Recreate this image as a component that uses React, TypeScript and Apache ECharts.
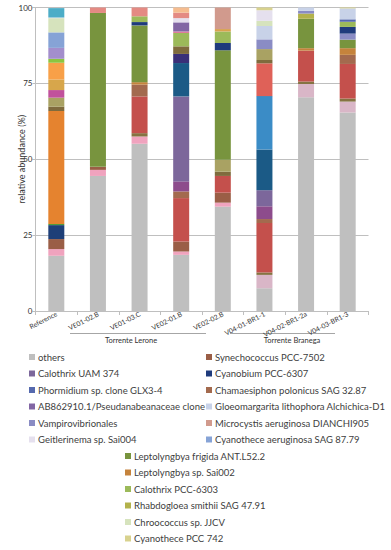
import React, { useEffect, useRef } from "react";
import * as echarts from "echarts";

const categories = ["Reference", "VE01-02.B", "VE01-03.C", "VE02-01.B", "VE02-02.B", "V04-01-BR1-1", "V04-02-BR1-2a", "V04-03-BR1-3"];
const yTicks = [0, 25, 50, 75, 100];

// values (%) per category, stacked bottom to top
const others = [18.2, 44.5, 55.1, 18.5, 34.4, 7.5, 70.4, 65.4];
const pinkA = [2.2, 2.0, 2.4, 1.1, 1.3, 0, 0, 0];
const mauveB = [0, 0, 0, 0, 0, 4.4, 4.4, 3.6];
const synechococcus = [3.3, 1.0, 0, 3.3, 3.3, 0, 0, 0];
const oliveLow = [0, 0, 1.1, 0, 0, 0.8, 0.8, 1.0];
const navyRef = [4.6, 0, 0, 0, 0, 0, 0, 0];
const greenThin = [0.4, 0, 0, 0, 0, 0, 0, 0];
const orangeMain = [37.2, 0, 0, 0, 0, 0, 0, 0];
const redMain = [0, 0, 12.1, 14.3, 5.5, 16.3, 10.2, 11.4];
const chamaesiphon = [0, 0, 3.9, 2.2, 0, 1.3, 0, 3.0];
const leptoSp = [0, 0, 0.8, 0, 0, 0, 0.8, 2.2];
const magentaPurple = [0, 0, 0, 3.3, 0, 4.2, 0, 0];
const calothrixUAM = [0, 0, 0, 28.0, 0, 5.3, 0, 0];
const darkTeal = [0, 0, 0, 11.0, 0, 13.4, 0, 0];
const midBlue = [0, 0, 0, 0, 0, 17.6, 0, 0];
const coral = [0, 0, 0, 0, 0, 10.8, 0, 0];
const darkPurple = [0, 0, 0, 3.0, 0, 0, 0, 0];
const oliveHigh = [1.4, 0, 0, 2.5, 1.4, 1.1, 0, 0];
const khaki = [3.0, 0, 0, 0, 3.9, 3.6, 0, 0];
const leptoFrigida = [0, 50.7, 18.7, 0, 36.1, 0, 9.7, 2.8];
const rhabdogloea = [0, 0, 0, 0, 0, 0, 1.7, 0];
const magentaRef = [2.5, 0, 0, 0, 0, 0, 0, 0];
const tanRef = [3.5, 0, 0, 0, 0, 0, 0, 0];
const lightOrangeRef = [5.5, 0, 0, 0, 0, 0, 0, 0];
const brightGreenRef = [1.3, 0, 0, 0, 0, 0, 0, 0];
const vampiro = [0, 0, 0, 0, 0, 3.2, 0.9, 2.0];
const cyanobium = [0, 0, 1.1, 0, 2.4, 0, 0, 2.2];
const calothrixPCC = [0, 0, 1.9, 4.4, 3.8, 0, 0, 1.7];
const phormidium = [0, 0, 0, 0, 0, 0, 0, 0.8];
const orangeThin2 = [0, 0, 0, 0, 0.8, 0, 0, 0];
const pinkThin = [0, 0, 0, 0.5, 0, 0, 0, 0];
const ab862910 = [0, 0, 0, 3.0, 0, 0, 0, 0];
const lavenderRef = [3.6, 0, 0, 0, 0, 0, 0, 0];
const cyanotheceAer = [5.1, 0, 0, 0, 0, 0, 0, 0];
const gloeomargarita = [0, 0, 0, 0, 0, 4.4, 1.1, 3.6];
const chroococcus = [4.7, 0, 0, 0, 0, 1.7, 0, 0];
const geitlerinema = [0.2, 0, 0, 1.4, 0, 3.5, 0, 0];
const microcystis = [0, 0, 0, 0, 7.3, 0, 0, 0];
const salmon = [0, 1.8, 2.9, 1.8, 0, 0, 0, 0];
const lightOrange2 = [0, 0, 0, 1.8, 0, 0, 0, 0];
const cyanRef = [3.1, 0, 0, 0, 0, 0, 0, 0];
const cyanothecePCC = [0, 0, 0, 0, 0, 0.9, 0, 0.3];

const layers: [string, string, number[]][] = [
  ["others", "#BFBFBF", others],
  ["x pink", "#F0A3BE", pinkA],
  ["x mauve", "#D9B6C7", mauveB],
  ["Synechococcus PCC-7502", "#9A5E46", synechococcus],
  ["x olive low", "#857342", oliveLow],
  ["x navy", "#1E3F78", navyRef],
  ["x green thin", "#4F9A3A", greenThin],
  ["x orange", "#E5832F", orangeMain],
  ["x red", "#C4504C", redMain],
  ["Chamaesiphon polonicus SAG 32.87", "#A36A4E", chamaesiphon],
  ["Leptolyngbya sp. Sai002", "#C5833C", leptoSp],
  ["x magenta purple", "#8D4C8C", magentaPurple],
  ["Calothrix UAM 374", "#7C679B", calothrixUAM],
  ["x dark teal", "#1B5A86", darkTeal],
  ["x mid blue", "#3B8CC6", midBlue],
  ["x coral", "#DF6158", coral],
  ["x dark purple", "#3A2F78", darkPurple],
  ["x olive high", "#7F6B3D", oliveHigh],
  ["x khaki", "#A9A263", khaki],
  ["Leptolyngbya frigida ANT.L52.2", "#78943E", leptoFrigida],
  ["Rhabdogloea smithii SAG 47.91", "#B3B24B", rhabdogloea],
  ["x magenta", "#C1519C", magentaRef],
  ["x tan", "#D7A64B", tanRef],
  ["x light orange", "#F8A048", lightOrangeRef],
  ["x bright green", "#8CC540", brightGreenRef],
  ["Vampirovibrionales", "#8A8CC4", vampiro],
  ["Cyanobium PCC-6307", "#1F3B7C", cyanobium],
  ["Calothrix PCC-6303", "#9CBA5A", calothrixPCC],
  ["Phormidium sp. clone GLX3-4", "#5569AE", phormidium],
  ["x orange thin", "#D8A24F", orangeThin2],
  ["x pink thin", "#E07C9C", pinkThin],
  ["AB862910.1/Pseudanabeanaceae clone", "#8266A4", ab862910],
  ["x lavender", "#A38ECC", lavenderRef],
  ["Cyanothece aeruginosa SAG 87.79", "#86A3D6", cyanotheceAer],
  ["Gloeomargarita lithophora Alchichica-D1", "#C8D2E8", gloeomargarita],
  ["Chroococcus sp. JJCV", "#D6E3BD", chroococcus],
  ["Geitlerinema sp. Sai004", "#E5E0EE", geitlerinema],
  ["Microcystis aeruginosa DIANCHI905", "#D19A8D", microcystis],
  ["x salmon", "#E48A83", salmon],
  ["x light orange 2", "#F5BC8F", lightOrange2],
  ["x cyan", "#4CADC7", cyanRef],
  ["Cyanothece PCC 742", "#D8D28E", cyanothecePCC],
];

const legendLeft = ["others", "Calothrix UAM 374", "Phormidium sp. clone GLX3-4", "AB862910.1/Pseudanabeanaceae clone", "Vampirovibrionales", "Geitlerinema sp. Sai004"];
const legendRight = ["Synechococcus PCC-7502", "Cyanobium PCC-6307", "Chamaesiphon polonicus SAG 32.87", "Gloeomargarita lithophora Alchichica-D1", "Microcystis aeruginosa DIANCHI905", "Cyanothece aeruginosa SAG 87.79"];
const legendMid = ["Leptolyngbya frigida ANT.L52.2", "Leptolyngbya sp. Sai002", "Calothrix PCC-6303", "Rhabdogloea smithii SAG 47.91", "Chroococcus sp. JJCV", "Cyanothece PCC 742"];
const groupNames = ["Torrente Lerone", "Torrente Branega"];

const FONT = "Lato";

export default function App() {
  const ref = useRef<HTMLDivElement>(null);
  useEffect(() => {
    if (!ref.current) return;
    const chart = echarts.init(ref.current, undefined, { renderer: "svg" });
    const legendCommon = {
      orient: "vertical" as const,
      icon: "rect",
      itemWidth: 6,
      itemHeight: 6,
      itemGap: 4.5,
      selectedMode: false,
      textStyle: { fontFamily: FONT, fontSize: 9.5, color: "#404040", lineHeight: 12, padding: [0, 0, 0, -2] },
      padding: 0,
    };
    chart.setOption({
      animation: false,
      textStyle: { fontFamily: FONT },
      grid: { left: 35.5, right: 22.5, top: 7.5, bottom: 239 },
      legend: [
        { ...legendCommon, left: 29, top: 351, data: legendLeft },
        { ...legendCommon, left: 206, top: 351, data: legendRight },
        { ...legendCommon, left: 125, top: 450, data: legendMid },
      ],
      xAxis: {
        type: "category",
        data: categories,
        axisLine: { lineStyle: { color: "#BFBFBF" } },
        axisTick: { show: true, length: 4, lineStyle: { color: "#BFBFBF" } },
        axisLabel: { rotate: 27, fontSize: 6.8, color: "#333", margin: 2, interval: 0, fontFamily: FONT },
      },
      yAxis: {
        type: "value",
        min: yTicks[0],
        max: yTicks[yTicks.length - 1],
        interval: 25,
        name: "relative abundance (%)",
        nameLocation: "middle",
        nameGap: 10,
        nameMoveOverlap: false,
        nameTextStyle: { fontSize: 9, color: "#333", fontFamily: FONT },
        axisLine: { show: true, lineStyle: { color: "#BFBFBF" } },
        axisTick: { show: true, length: 3, lineStyle: { color: "#BFBFBF" } },
        axisLabel: { fontSize: 8, color: "#333", margin: 3, fontFamily: FONT },
        splitLine: { lineStyle: { color: "#BFBFBF" } },
      },
      series: layers.map(([name, color, data]) => ({
        name,
        type: "bar",
        stack: "total",
        barWidth: 16,
        itemStyle: { color },
        data,
      })),
      graphic: [
        { type: "line", shape: { x1: 70, y1: 333.5, x2: 206, y2: 333.5 }, style: { stroke: "#A6A6A6", lineWidth: 1 } },
        { type: "line", shape: { x1: 230, y1: 333.5, x2: 335, y2: 333.5 }, style: { stroke: "#A6A6A6", lineWidth: 1 } },
        { type: "text", x: 131, y: 340, style: { text: groupNames[0], fontSize: 7.5, fontFamily: FONT, fill: "#333", align: "center", verticalAlign: "middle" } },
        { type: "text", x: 292, y: 340, style: { text: groupNames[1], fontSize: 7.5, fontFamily: FONT, fill: "#333", align: "center", verticalAlign: "middle" } },
      ],
    });
    return () => chart.dispose();
  }, []);
  return <div ref={ref} style={{ width: 391, height: 550, position: "absolute", left: 0, top: 0 }} />;
}
